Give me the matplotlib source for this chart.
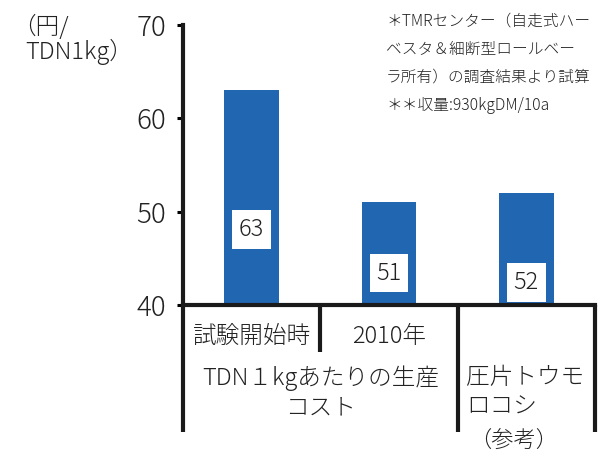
import matplotlib
matplotlib.use("Agg")
import matplotlib.pyplot as plt

plt.rcParams['font.family'] = ['Noto Sans CJK JP', 'DejaVu Sans']
plt.rcParams['font.weight'] = 'light'

# ---- data ----
categories = ['試験開始時', '2010年', '']
costs = [63, 51, 52]
label_pos = [48.1, 43.4, 42.4]   # where the value boxes sit
yticks = [40, 50, 60, 70]
group_labels = ['TDN１kgあたりの生産\nコスト']
ref_label = ['圧片トウモ\nロコシ', '（参考）']
notes = ['＊TMRセンター（自走式ハー',
         'ベスタ＆細断型ロールベー',
         'ラ所有）の調査結果より試算',
         '＊＊収量:930kgDM/10a']

W, H = 601, 453
fig = plt.figure(figsize=(W / 100, H / 100), dpi=100)
ax = fig.add_axes([183 / W, 1 - 305 / H, (595 - 183) / W, (305 - 25) / H])

blue = '#2166b0'
x = range(len(costs))
ax.bar(x, costs, width=0.4, color=blue, bottom=0)

for i, (v, p) in enumerate(zip(costs, label_pos)):
    ax.text(i, p, str(v), ha='center', va='center', fontsize=17, color='#222222',
            bbox=dict(boxstyle='square,pad=0.28', fc='white', ec='none'))

ax.set_xlim(-0.5, 2.5)
ax.set_ylim(40, 70)
ax.set_yticks(yticks)
ax.set_xticks([])
ax.tick_params(axis='y', length=4, width=2.2, pad=8, labelsize=20, labelcolor='#222222')
for s in ['top', 'right']:
    ax.spines[s].set_visible(False)
for s in ['left', 'bottom']:
    ax.spines[s].set_linewidth(3)
    ax.spines[s].set_color('#1a1a1a')

# table lines under the axis
tr = ax.get_xaxis_transform()
for xv, yb in [(-0.5, -0.455), (0.5, -0.168), (1.5, -0.455), (2.5, -0.455)]:
    ax.plot([xv, xv], [0, yb], color='#1a1a1a', lw=3, transform=tr, clip_on=False,
            solid_capstyle='butt')

# category texts
for i, c in enumerate(categories):
    if c:
        ax.text(i, -0.114, c, transform=tr, ha='center', va='center', fontsize=17,
                color='#222222')
ax.text(0.5, -0.215, group_labels[0], transform=tr, ha='center', va='top',
        fontsize=17, color='#222222', linespacing=1.25)
ax.text(1.56, -0.215, ref_label[0], transform=tr, ha='left', va='top',
        fontsize=17, color='#222222', linespacing=1.25)
ax.text(1.91, -0.485, ref_label[1], transform=tr, ha='center', va='center',
        fontsize=16, color='#222222')

# y unit label
fig.text(12 / W, 1 - 27 / H, '（円/', ha='left', va='center', fontsize=17, color='#222222')
fig.text(25 / W, 1 - 52 / H, 'TDN1kg）', ha='left', va='center', fontsize=17, color='#222222')

# notes top right
for k, line in enumerate(notes):
    fig.text(386 / W, 1 - (21 + 28 * k) / H, line, ha='left', va='center',
             fontsize=11.3, color='#222222')

fig.savefig('out.png', dpi=100)
